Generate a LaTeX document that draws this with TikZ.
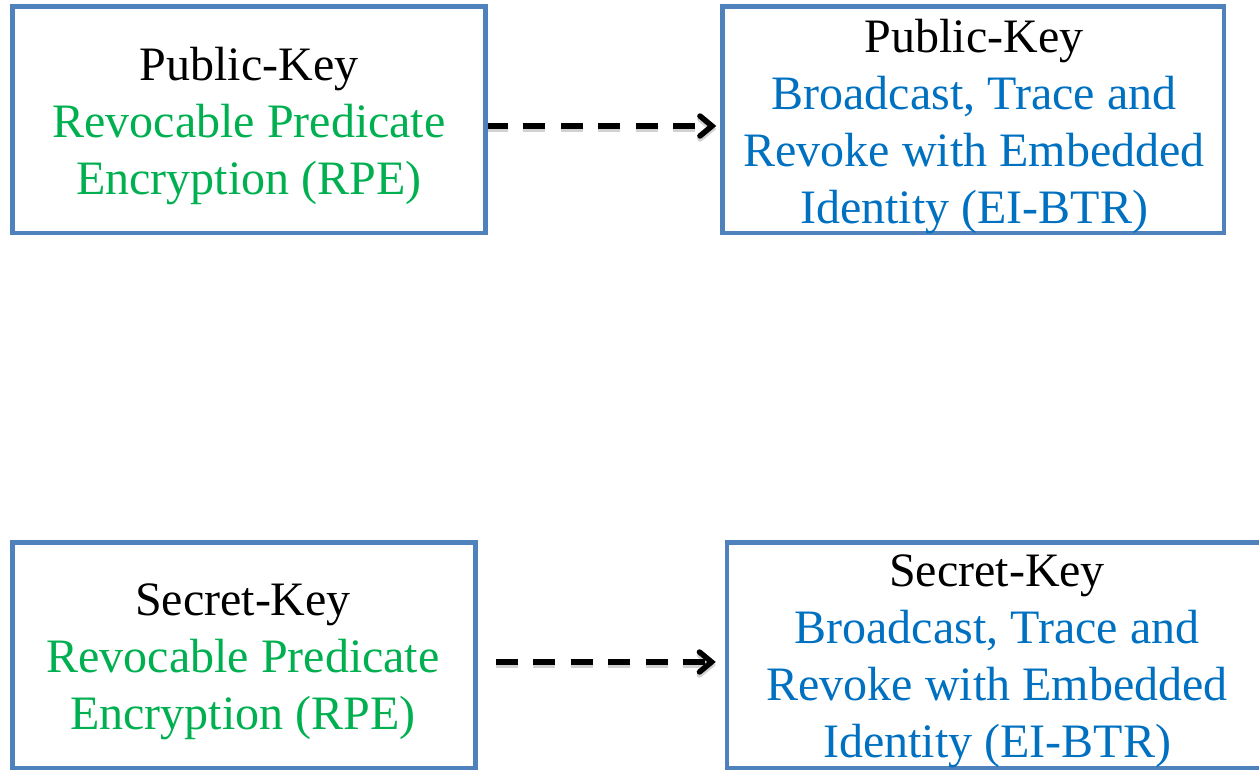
\documentclass[tikz,border=0pt]{standalone}
\usepackage{fontspec}
\setmainfont{Liberation Serif}
\usetikzlibrary{arrows.meta}
\definecolor{boxblue}{HTML}{4F81BD}
\definecolor{rpegreen}{HTML}{00B050}
\definecolor{btrblue}{HTML}{0070C0}
\begin{document}
\begin{tikzpicture}[x=1pt,y=-1pt,
  schemebox/.style={draw=boxblue,line width=4.5pt,rectangle,inner sep=0pt},
  caption/.style={anchor=north,inner sep=0pt,align=center,
    font=\fontsize{48}{57}\selectfont},
  reduction/.style={line width=5.5pt,dash pattern=on 22pt off 15.5pt,
    -{Straight Barb[length=12pt,width=20pt,line width=5.5pt,line cap=round]}},
  dropshadow/.style={reduction,draw=black,draw opacity=0.18,yshift=-3pt,xshift=1pt}]
\useasboundingbox (0,0) rectangle (1259,770);
\clip (0,0) rectangle (1259,770);
% scheme boxes
\node[schemebox,minimum width=473pt,minimum height=226.5pt] (pkrpe) at (249,119.75) {};
\node[schemebox,minimum width=501.5pt,minimum height=226.5pt] (pkbtr) at (973.25,119.75) {};
\node[schemebox,minimum width=463pt,minimum height=225.5pt] (skrpe) at (244,655.25) {};
\node[schemebox,minimum width=541pt,minimum height=225.5pt] (skbtr) at (997.5,655.25) {};
% implications (soft shadow first, then the arrow itself)
\draw[dropshadow,shorten <=-2pt,shorten >=4pt] (pkrpe.east |- 0,126) -- (pkbtr.west |- 0,126);
\draw[dropshadow,shorten <=18pt,shorten >=9pt] (skrpe.east |- 0,662) -- (skbtr.west |- 0,662);
\draw[reduction,shorten <=-2pt,shorten >=4pt] (pkrpe.east |- 0,126) -- (pkbtr.west |- 0,126);
\draw[reduction,shorten <=18pt,shorten >=9pt] (skrpe.east |- 0,662) -- (skbtr.west |- 0,662);
% redraw the left border over the start of the upper arrow
\draw[boxblue,line width=4.5pt] (pkrpe.north east) ++(-2.25pt,0) coordinate (pkedge) -- (pkedge |- pkrpe.south);
% scheme names
\node[caption] (pkrpetext) at (249,47) {Public-Key\\\textcolor{rpegreen}{Revocable Predicate}\\\textcolor{rpegreen}{Encryption (RPE)}};
\node[caption] (pkbtrtext) at (974,19) {Public-Key\\\textcolor{btrblue}{Broadcast, Trace and}\\\textcolor{btrblue}{Revoke with Embedded}\\\textcolor{btrblue}{Identity (EI-BTR)}};
\node[caption] (skrpetext) at (243,584) {Secret-Key\\\textcolor{rpegreen}{Revocable Predicate}\\\textcolor{rpegreen}{Encryption (RPE)}};
\node[caption] (skbtrtext) at (997,555) {Secret-Key\\\textcolor{btrblue}{Broadcast, Trace and}\\\textcolor{btrblue}{Revoke with Embedded}\\\textcolor{btrblue}{Identity (EI-BTR)}};
\end{tikzpicture}
\end{document}
